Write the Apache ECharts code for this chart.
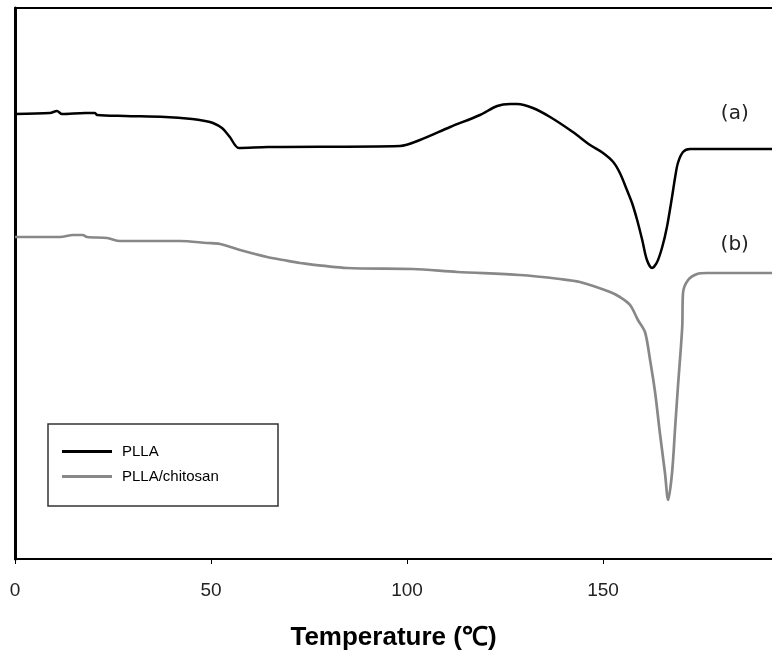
<!DOCTYPE html>
<html>
<head>
<meta charset="utf-8">
<script src="https://cdn.jsdelivr.net/npm/echarts@6/dist/echarts.min.js"></script>
<style>
  html, body { margin: 0; padding: 0; background: #fff; }
  #chart { width: 772px; height: 652px; }
</style>
</head>
<body>
<div id="chart"></div>
<script>
// temperature (°C) and heat flow (arbitrary units, higher = up)
const pllaTemp = [0, 8.9, 10.7, 12, 17.9, 20.4, 20.9, 28.1, 38.3, 45.2, 48.5, 50.5, 52.8, 54.8, 57.1, 64.5,
  98.2, 103.3, 111, 118.6, 123, 126.3, 128.1, 132.1, 136.5, 142.3, 146.7, 150, 152.6, 154.3, 156.1,
  157.4, 158.7, 160, 161.2, 162.5, 163.8, 165.1, 166.3, 167.6, 168.4, 169.1, 170.4, 172.2, 193.1];
const pllaFlow = [445, 446, 448, 445, 446, 446, 444, 443, 442, 440, 438, 436, 431, 422, 411, 412,
  413, 419, 432, 444, 453, 455, 455, 451, 442, 427, 414, 406, 397, 386, 369,
  356, 339, 319, 299, 291, 297, 312, 332, 362, 382, 396, 407, 410, 410];

const chitoTemp = [0, 11.5, 14.8, 17.3, 18.4, 23.5, 26.8, 42.1, 49, 52.3, 57.4, 64.3, 68.4, 72.7, 84.7,
  101.5, 112.8, 128.8, 139, 144.1, 151.8, 154.3, 156.9, 158.9, 160.7, 162, 163.3, 164.5, 165.8, 166.6,
  167.6, 168.4, 169.1, 170.2, 170.4, 171.7, 174, 176.5, 193.1];
const chitoFlow = [322, 322, 324, 324, 322, 321, 318, 318, 316, 315, 309, 302, 299, 296, 291,
  290, 287, 284, 280, 277, 267, 262, 254, 239, 227, 199, 166, 126, 86, 59,
  86, 132, 172, 232, 266, 279, 285, 286, 286];

const xTicks = [0, 50, 100, 150];
const curveLabels = ['(a)', '(b)'];

const chart = echarts.init(document.getElementById('chart'));

const toPairs = (xs, ys) => xs.map((x, i) => [x, ys[i]]);

const labelMark = (text, coord) => ({
  symbol: 'circle',
  symbolSize: 0,
  label: {
    show: true,
    formatter: text,
    fontFamily: 'DejaVu Sans',
    fontSize: 20,
    color: '#222'
  },
  data: [{ coord: coord }]
});

const option = {
  animation: false,
  grid: {
    left: 15,
    right: 0,
    top: 8,
    bottom: 93,
    outerBoundsMode: 'none',
    containLabel: false
  },
  xAxis: [
    {
      type: 'value',
      min: 0,
      max: 193.1,
      interval: 50,
      name: 'Temperature (℃)',
      nameLocation: 'middle',
      nameGap: 66,
      nameTextStyle: {
        fontFamily: 'Liberation Sans',
        fontWeight: 'bold',
        fontSize: 26,
        color: '#000'
      },
      axisLine: { show: true, lineStyle: { color: '#000', width: 2 } },
      axisTick: { show: true, inside: false, length: 5, lineStyle: { color: '#000', width: 1 } },
      axisLabel: {
        margin: 22,
        fontFamily: 'Liberation Sans',
        fontSize: 19,
        color: '#222',
        showMaxLabel: false,
        formatter: v => (xTicks.indexOf(v) >= 0 ? String(v) : '')
      },
      splitLine: { show: false }
    },
    {
      // top frame line only
      type: 'value',
      position: 'top',
      min: 0,
      max: 193.1,
      axisLine: { show: true, lineStyle: { color: '#000', width: 2 } },
      axisTick: { show: false },
      axisLabel: { show: false },
      splitLine: { show: false }
    }
  ],
  yAxis: {
    type: 'value',
    min: 0,
    max: 551,
    axisLine: { show: true, lineStyle: { color: '#000', width: 3 } },
    axisTick: { show: false },
    axisLabel: { show: false },
    splitLine: { show: false }
  },
  legend: {
    orient: 'vertical',
    left: 62,
    top: 444,
    icon: 'rect',
    itemWidth: 50,
    itemHeight: 3,
    itemGap: 10,
    padding: 0,
    textStyle: {
      fontFamily: 'Liberation Sans',
      fontSize: 15,
      color: '#000',
      padding: [0, 0, 0, 5]
    },
    data: ['PLLA', 'PLLA/chitosan']
  },
  graphic: [
    {
      type: 'rect',
      shape: { x: 48, y: 424, width: 230, height: 82 },
      style: { fill: 'none', stroke: '#333', lineWidth: 1.5 },
      z: 10
    }
  ],
  series: [
    {
      name: 'PLLA',
      type: 'line',
      data: toPairs(pllaTemp, pllaFlow),
      symbol: 'none',
      smooth: 0.3,
      lineStyle: { color: '#000', width: 2.5 },
      itemStyle: { color: '#000' },
      markPoint: labelMark(curveLabels[0], [183.6, 445])
    },
    {
      name: 'PLLA/chitosan',
      type: 'line',
      data: toPairs(chitoTemp, chitoFlow),
      symbol: 'none',
      smooth: 0.3,
      lineStyle: { color: '#888', width: 2.7 },
      itemStyle: { color: '#888' },
      markPoint: labelMark(curveLabels[1], [183.6, 314])
    }
  ]
};

chart.setOption(option);
</script>
</body>
</html>
